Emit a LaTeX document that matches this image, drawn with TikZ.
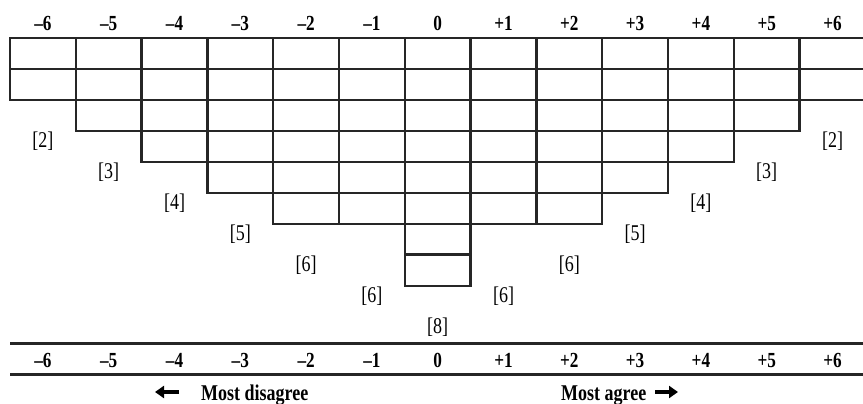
\documentclass[tikz,border=0pt]{standalone}
\usepackage{fontspec}
\setmainfont{Liberation Serif}
\newfontfamily\labfont[FakeStretch=0.8]{Liberation Serif}
\usetikzlibrary{arrows.meta}
\begin{document}
\begin{tikzpicture}[x=1pt,y=-1pt,
  cellbox/.style={draw=black!85, line width=2.4pt},
  hdr/.style={font=\labfont\bfseries\fontsize{21.5}{24}\selectfont, anchor=base, inner sep=0pt},
  cnt/.style={font=\labfont\fontsize{22.5}{24}\selectfont, inner sep=0pt},
  foot/.style={font=\labfont\bfseries\fontsize{22.5}{26}\selectfont, inner sep=0pt},
  rule/.style={draw=black!85, line width=3pt},
  bigarrow/.style={line width=3.6pt, -{Triangle[length=9pt,width=12pt]}}]
\useasboundingbox (0,0) rectangle (863,404);
\clip (0,0) rectangle (863,404);
\foreach \t/\n/\k [count=\i from 0] in {–6/2/0, –5/3/1, –4/4/2, –3/5/3, –2/6/4, –1/6/5, 0/8/6, +1/6/5, +2/6/4, +3/5/3, +4/4/2, +5/3/1, +6/2/0} {
  \pgfmathsetmacro\xl{10+65.8*\i}
  \pgfmathsetmacro\xc{\xl+32.9}
  \foreach \j in {1,...,\n} {
    \draw[cellbox] (\xl,{38+31*(\j-1)}) rectangle ({\xl+65.8},{38+31*\j});
  }
  \node[hdr] (h\i) at (\xc,31) {\t};
  \node[cnt] (c\i) at (\xc,{141+31*\k}) {[\n]};
  \node[hdr] (b\i) at (\xc,367) {\t};
}
% thicker divider in the 0 column
\draw[draw=black!85, line width=3.6pt] (10+65.8*6,254.5) -- (10+65.8*7,254.5);
% bottom scale rules
\coordinate (r1l) at (10,343); \coordinate (r1r) at (863,343);
\coordinate (r2l) at (10,374); \coordinate (r2r) at (863,374);
\draw[rule] (r1l) -- (r1r);
\draw[rule] (r2l) -- (r2r);
% footer texts and arrows
\node[foot, anchor=base west] (dis) at (201,400) {Most disagree};
\node[foot, anchor=base west] (agr) at (561,400) {Most agree};
\coordinate (la1) at (179,392); \coordinate (la2) at (155,392);
\coordinate (ra1) at (655,392); \coordinate (ra2) at (678,392);
\draw[bigarrow] (la1) -- (la2);
\draw[bigarrow] (ra1) -- (ra2);
\end{tikzpicture}
\end{document}
